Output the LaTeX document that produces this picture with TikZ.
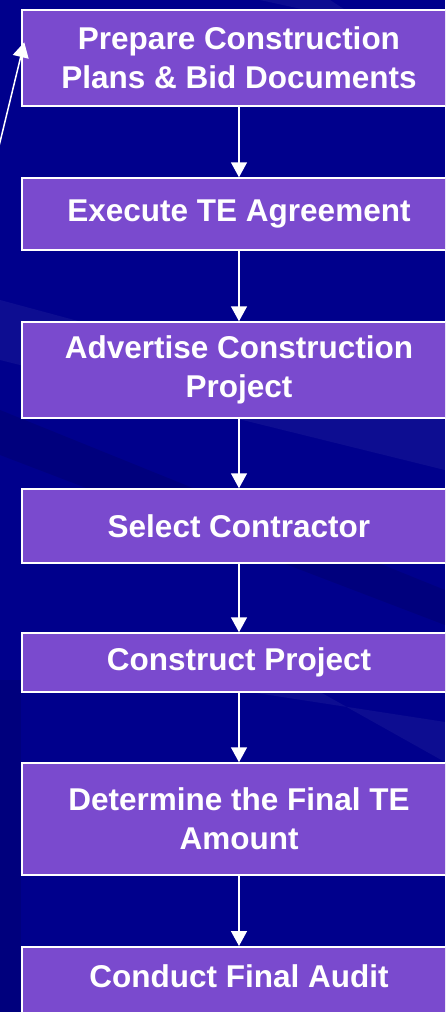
\documentclass[tikz,border=0pt]{standalone}
\usepackage{fontspec}
\setmainfont{Liberation Sans}
\usepackage{tikz}
\usetikzlibrary{calc,positioning,arrows.meta}

\definecolor{bgblue}{RGB}{0,0,140}
\definecolor{boxpurple}{RGB}{122,74,206}

\begin{document}
\begin{tikzpicture}[x=1pt, y=-1pt,
  stepbox/.style={draw=white, line width=1.5pt, fill=boxpurple, text=white,
    font=\bfseries\fontsize{31.5}{39}\selectfont, align=center,
    minimum width=434pt, inner sep=0pt},
  flow/.style={draw=white, line width=1.5pt, -{Triangle[width=16pt,length=15pt]}},
  streak/.style={fill=white, opacity=0.05}]
\useasboundingbox (0,0) rectangle (445,1012);
\clip (0,0) rectangle (445,1012);
% background
\fill[bgblue] (0,0) rectangle (445,1012);
\fill[streak] (260,0) -- (445,40) -- (445,75) -- (330,0) -- cycle;
\fill[streak] (0,300) -- (445,420) -- (445,470) -- (0,360) -- cycle;
\fill[black, opacity=0.1] (0,410) -- (445,590) -- (445,625) -- (0,455) -- cycle;
\fill[streak] (250,692) -- (445,722) -- (445,762) -- (320,692) -- cycle;
\fill[black, opacity=0.1] (0,680) rectangle (21,1012);

% steps
\node[stepbox, minimum height=96pt] (prep) at (239,58) {Prepare Construction\\Plans \& Bid Documents};
\node[stepbox, minimum height=72pt] (exec) at (239,214) {Execute TE Agreement};
\node[stepbox, minimum height=96pt] (advert) at (239,370) {Advertise Construction\\Project};
\node[stepbox, minimum height=74pt] (select) at (239,526) {Select Contractor};
\node[stepbox, minimum height=59pt] (build) at (239,662.5) {Construct Project};
\node[stepbox, minimum height=112pt] (amount) at (239,819) {Determine the Final TE\\Amount};
\node[stepbox, anchor=north, text height=41pt, text depth=60pt] (audit) at (239,946) {Conduct Final Audit};

\foreach \a/\b in {prep/exec, exec/advert, advert/select, select/build, build/amount, amount/audit}{
  \draw[flow] (\a) -- (\b);
}

% loop back from the left
\coordinate (loopstart) at (-8,175);
\coordinate (looptip) at ([shift={(3,33)}]prep.north west);
\draw[flow] (loopstart) -- (looptip);

\end{tikzpicture}
\end{document}
